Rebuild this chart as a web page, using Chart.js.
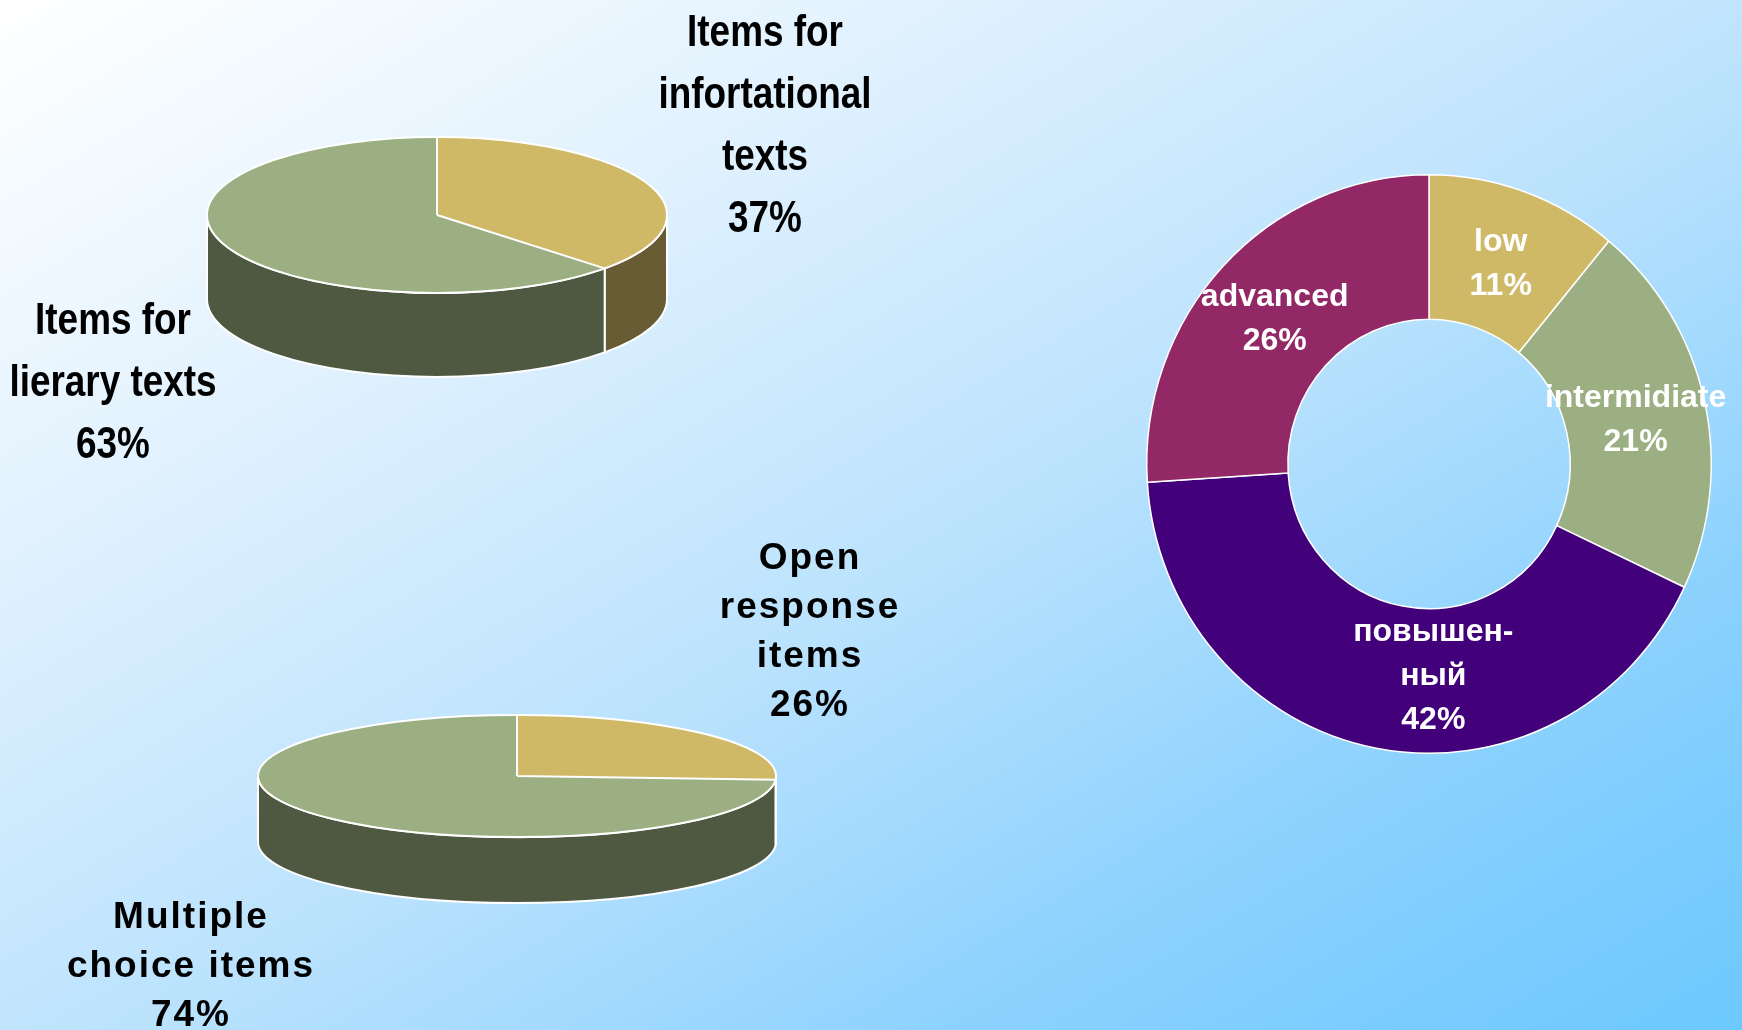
<!DOCTYPE html>
<html>
<head>
<meta charset="utf-8">
<title>Items and levels</title>
<script src="https://cdn.jsdelivr.net/npm/chart.js@4.4.1/dist/chart.umd.min.js"></script>
<style>
  html, body { margin: 0; padding: 0; }
  body {
    width: 1742px; height: 1030px; overflow: hidden; position: relative;
    background: linear-gradient(to bottom right, #ffffff 0%, #e0f1fe 28%, #bce3fd 53%, #8bd1fe 78%, #6cc8fe 100%);
  }
  canvas { position: absolute; }
  .lbl {
    position: absolute; width: 400px; text-align: center; color: #000;
    font-weight: bold; white-space: nowrap; z-index: 2;
  }
  .narrow { font-family: "Liberation Sans Narrow", "Arial Narrow", sans-serif; font-size: 45px; line-height: 62px; }
  .narrow.squeezed { font-family: "Liberation Sans", Arial, sans-serif; transform: scaleX(0.82); }
  .wide { font-family: "Liberation Sans", Arial, sans-serif; font-size: 37px; line-height: 49px; letter-spacing: 2px; }
</style>
</head>
<body>
<canvas id="texts"></canvas>
<canvas id="items"></canvas>
<canvas id="levels"></canvas>
<script>
// reading items by text type
const textTypes = [["Items for", "infortational", "texts"], ["Items for", "lierary texts"]];
const textShares = [37, 63];

// items by response format
const itemTypes = [["Open", "response", "items"], ["Multiple", "choice items"]];
const itemShares = [26, 74];

// results by level
const levels = ["low", "intermidiate", ["повышен-", "ный"], "advanced"];
const levelShares = [11, 21, 42, 26];

const topColors = ["#cfb966", "#9caf82"];
const sideColors = ["#675c34", "#4f5942"];
const levelColors = ["#cfb966", "#9caf82", "#42007a", "#922866"];

// flattens the pie into an ellipse and gives it a wall underneath
const tilt = {
  id: "tilt",
  beforeDatasetsDraw(chart, args, opts) {
    const ctx = chart.ctx;
    const arcs = chart.getDatasetMeta(0).data;
    const { x, y, outerRadius } = arcs[0].getProps(["x", "y", "outerRadius"], true);
    const rx = outerRadius, ry = outerRadius * opts.squash;
    if (opts.depth) {
      ctx.save();
      ctx.lineWidth = opts.lineWidth;
      ctx.strokeStyle = "#fff";
      ctx.lineJoin = "round";
      arcs.forEach((arc, i) => {
        const { startAngle, endAngle } = arc.getProps(["startAngle", "endAngle"], true);
        const a = Math.max(startAngle, 0), b = Math.min(endAngle, Math.PI);
        if (a >= b) return;
        ctx.beginPath();
        ctx.ellipse(x, y, rx, ry, 0, a, b);
        ctx.lineTo(x + rx * Math.cos(b), y + ry * Math.sin(b) + opts.depth);
        ctx.ellipse(x, y + opts.depth, rx, ry, 0, b, a, true);
        ctx.closePath();
        ctx.fillStyle = opts.sides[i];
        ctx.fill();
        ctx.stroke();
      });
      ctx.restore();
    }
    ctx.save();
    ctx.translate(x, y);
    ctx.scale(1, opts.squash);
    ctx.translate(-x, -y);
  },
  afterDatasetsDraw(chart, args, opts) {
    const ctx = chart.ctx;
    ctx.restore();
    if (!opts.outline) return;
    const arcs = chart.getDatasetMeta(0).data;
    const { x, y, outerRadius } = arcs[0].getProps(["x", "y", "outerRadius"], true);
    const rx = outerRadius, ry = outerRadius * opts.squash;
    ctx.save();
    ctx.lineWidth = opts.lineWidth;
    ctx.strokeStyle = "#fff";
    ctx.beginPath();
    arcs.forEach(arc => {
      const { startAngle } = arc.getProps(["startAngle"], true);
      ctx.moveTo(x, y);
      ctx.lineTo(x + rx * Math.cos(startAngle), y + ry * Math.sin(startAngle));
    });
    ctx.stroke();
    ctx.beginPath();
    ctx.ellipse(x, y, rx, ry, 0, 0, Math.PI * 2);
    ctx.stroke();
    ctx.restore();
  }
};

// name + percent written inside each ring segment
const sliceLabels = {
  id: "sliceLabels",
  afterDraw(chart, args, opts) {
    const ctx = chart.ctx;
    const values = chart.data.datasets[0].data;
    ctx.save();
    ctx.font = opts.font;
    ctx.fillStyle = opts.color;
    ctx.textAlign = "center";
    ctx.textBaseline = "middle";
    chart.getDatasetMeta(0).data.forEach((arc, i) => {
      const p = arc.getProps(["x", "y", "startAngle", "endAngle", "innerRadius", "outerRadius"], true);
      const mid = (p.startAngle + p.endAngle) / 2;
      const r = (p.innerRadius + p.outerRadius) / 2;
      const [dx, dy] = opts.nudge[i] || [0, 0];
      const px = p.x + Math.cos(mid) * r + dx;
      const py = p.y + Math.sin(mid) * r * opts.squash + dy + opts.shiftY;
      const lines = [].concat(chart.data.labels[i], values[i] + "%");
      lines.forEach((t, j) => ctx.fillText(t, px, py + (j - (lines.length - 1) / 2) * opts.lineHeight));
    });
    ctx.restore();
  }
};

// canvas sized so the chart centre lands on (cx, cy) with radius r
function place(canvas, cx, cy, r, m) {
  const side = 2 * (r + m);
  canvas.width = side;
  canvas.height = side;
  canvas.style.left = (cx - r - m) + "px";
  canvas.style.top = (cy - r - m) + "px";
  return { left: m, right: m, top: m, bottom: m };
}

function pie3d(id, labels, values, cx, cy, r, squash, depth) {
  const canvas = document.getElementById(id);
  const padding = place(canvas, cx, cy, r, 14);
  return new Chart(canvas, {
    type: "pie",
    data: {
      labels: labels,
      datasets: [{ data: values, backgroundColor: topColors, borderWidth: 0 }]
    },
    options: {
      responsive: false,
      animation: false,
      layout: { padding: padding },
      events: [],
      plugins: {
        legend: { display: false },
        tooltip: { enabled: false },
        tilt: { squash: squash, depth: depth, sides: sideColors, outline: true, lineWidth: 2 }
      }
    },
    plugins: [tilt]
  });
}

pie3d("texts", textTypes, textShares, 437, 215, 230, 0.339, 84);
pie3d("items", itemTypes, itemShares, 517, 776, 259, 0.236, 66);

const ring = document.getElementById("levels");
new Chart(ring, {
  type: "doughnut",
  data: {
    labels: levels,
    datasets: [{
      data: levelShares,
      backgroundColor: levelColors,
      borderColor: "#ffffff",
      borderWidth: 1.5
    }]
  },
  options: {
    responsive: false,
    animation: false,
    cutout: "50%",
    events: [],
    layout: { padding: place(ring, 1429, 464, 283, 20) },
    plugins: {
      legend: { display: false },
      tooltip: { enabled: false },
      tilt: { squash: 1.025, depth: 0, outline: false },
      sliceLabels: {
        font: "bold 32px 'Liberation Sans', Arial, sans-serif",
        color: "#ffffff",
        lineHeight: 44,
        squash: 1.025,
        shiftY: 4,
        nudge: [[0, 0], [0, 0], [44, -5], [0, 0]]
      }
    }
  },
  plugins: [tilt, sliceLabels]
});
// the ring canvas is widened so the long labels are not clipped
ring.style.zIndex = 1;

// labels beside the two flat pies
function hasFont(name) {
  const c = document.createElement("canvas").getContext("2d");
  c.font = "bold 40px monospace";
  const base = c.measureText("Items for infortational").width;
  c.font = "bold 40px '" + name + "', monospace";
  return c.measureText("Items for infortational").width !== base;
}
const narrowOk = hasFont("Liberation Sans Narrow") || hasFont("Arial Narrow");

function addLabel(lines, value, cx, top, cls) {
  const div = document.createElement("div");
  div.className = "lbl " + cls + (cls === "narrow" && !narrowOk ? " squeezed" : "");
  div.style.left = (cx - 200) + "px";
  div.style.top = top + "px";
  [].concat(lines, value + "%").forEach((t, i) => {
    if (i) div.appendChild(document.createElement("br"));
    div.appendChild(document.createTextNode(t));
  });
  document.body.appendChild(div);
}

addLabel(textTypes[0], textShares[0], 765, 0, "narrow");
addLabel(textTypes[1], textShares[1], 113, 288, "narrow");
addLabel(itemTypes[0], itemShares[0], 810, 532, "wide");
addLabel(itemTypes[1], itemShares[1], 191, 891, "wide");
</script>
</body>
</html>
